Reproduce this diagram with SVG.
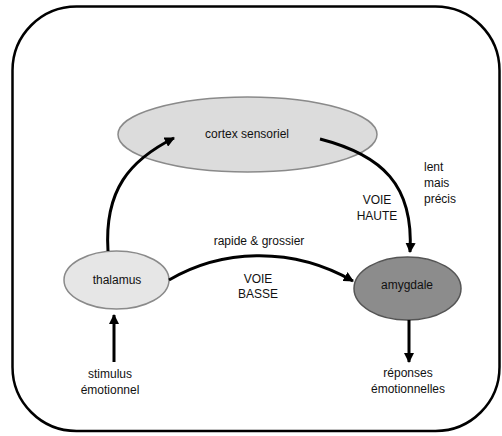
<svg xmlns="http://www.w3.org/2000/svg" width="502" height="436" viewBox="0 0 502 436">
<style>
text{font-family:"Liberation Sans",Arial,sans-serif;font-size:12px;fill:#111;}
.c{text-anchor:middle;}
.edge{fill:none;stroke:#000;stroke-width:3;}
</style>
<defs>
<marker id="ah" viewBox="0 0 10 10" refX="9" refY="5" markerWidth="3.4" markerHeight="3.4" orient="auto" markerUnits="strokeWidth">
<path d="M0,0 L10,5 L0,10 Z" fill="#000"/>
</marker>
</defs>
<rect id="frame" x="12.5" y="6.5" width="487" height="424.5" rx="64" ry="64" fill="#fff" stroke="#000" stroke-width="2.5"/>
<g id="cortex">
<ellipse cx="247.5" cy="134.5" rx="129.5" ry="37.5" fill="#dcdcdc" stroke="#8a8a8a" stroke-width="1.5"/>
<text class="c" x="247" y="138">cortex sensoriel</text>
</g>
<g id="thalamus">
<ellipse cx="116.5" cy="280" rx="52.5" ry="29" fill="#e6e6e6" stroke="#8a8a8a" stroke-width="1.5"/>
<text class="c" x="117" y="284">thalamus</text>
</g>
<g id="amygdale">
<ellipse cx="407.5" cy="288.5" rx="53.5" ry="31.5" fill="#8c8c8c" stroke="#555" stroke-width="1.5"/>
<text class="c" x="407" y="289">amygdale</text>
</g>
<g id="connectors">
<path class="edge" d="M108,251 C104,190 130,160 174,138" marker-end="url(#ah)"/>
<path class="edge" d="M320,139 C382,155 414,185 410,252" marker-end="url(#ah)"/>
<path class="edge" d="M169,280 C220,250 290,245 353,281" marker-end="url(#ah)"/>
<path class="edge" d="M114,362 L114,315" marker-end="url(#ah)"/>
<path class="edge" d="M409,320 L409,362" marker-end="url(#ah)"/>
</g>
<g id="labels">
<text class="c" x="259" y="245">rapide &amp; grossier</text>
<text class="c" x="258" y="283">VOIE</text>
<text class="c" x="258" y="298">BASSE</text>
<text class="c" x="377" y="204">VOIE</text>
<text class="c" x="377" y="220">HAUTE</text>
<text x="424" y="171">lent</text>
<text x="424" y="187">mais</text>
<text x="424" y="203">précis</text>
<text class="c" x="110" y="378">stimulus</text>
<text class="c" x="110" y="394">émotionnel</text>
<text class="c" x="408" y="377">réponses</text>
<text class="c" x="408" y="393">émotionnelles</text>
</g>
</svg>
